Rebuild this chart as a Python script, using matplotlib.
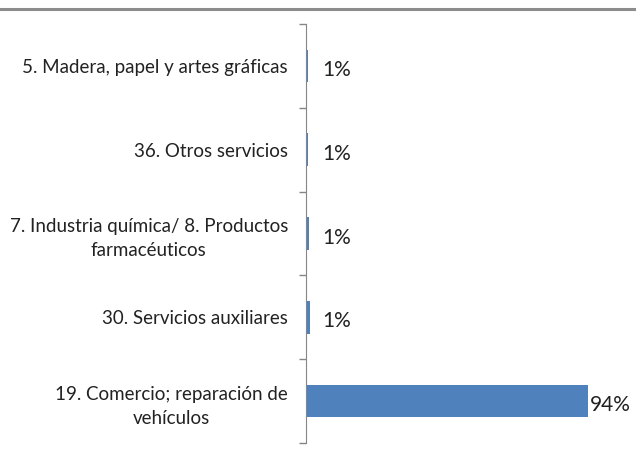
import matplotlib.pyplot as plt
from matplotlib.lines import Line2D

# datos (de abajo hacia arriba)
sectores = ['19. Comercio; reparación de\nvehículos',
            '30. Servicios auxiliares',
            '7. Industria química/ 8. Productos\nfarmacéuticos',
            '36. Otros servicios',
            '5. Madera, papel y artes gráficas']
porcentajes = [94, 1.3, 0.9, 0.8, 0.7]

plt.rcParams['font.family'] = ['Lato', 'DejaVu Sans']

fig = plt.figure(figsize=(6.36, 4.53), dpi=100)
ax = fig.add_axes([306/636, 1-443/453, (588-306)/636, (443-24)/453])

pos = list(range(len(sectores)))
bars = ax.barh(pos, porcentajes, height=0.39, color='#4F81BD')

ax.set_xlim(0, 94)
ax.set_ylim(-0.5, len(sectores) - 0.5)

for b, v in zip(bars, porcentajes):
    w = b.get_width()
    x = w + 0.5 if v > 50 else 5.3
    ax.text(x, b.get_y() + b.get_height()/2 - 0.05, f'{v:.0f}%', va='center', ha='left',
            fontsize=15, color='#222222', clip_on=False)

# etiquetas de categoría
ax.set_yticks(pos)
ax.set_yticklabels(sectores, fontsize=13.5, color='#222222',
                   multialignment='center', linespacing=1.5)
ax.tick_params(axis='y', which='major', length=0, pad=13)
ax.set_yticks([p - 0.5 for p in pos] + [len(sectores) - 0.5], minor=True)
ax.tick_params(axis='y', which='minor', length=5, color='#868686', width=1)

ax.set_xticks([])
for s in ['top', 'right', 'bottom']:
    ax.spines[s].set_visible(False)
ax.spines['left'].set_color('#868686')

# línea gris superior
fig.add_artist(Line2D([0, 1], [1-9/453, 1-9/453], color='#8c8c8c', linewidth=2.2,
                      transform=fig.transFigure))

fig.savefig('out.png', dpi=100)
